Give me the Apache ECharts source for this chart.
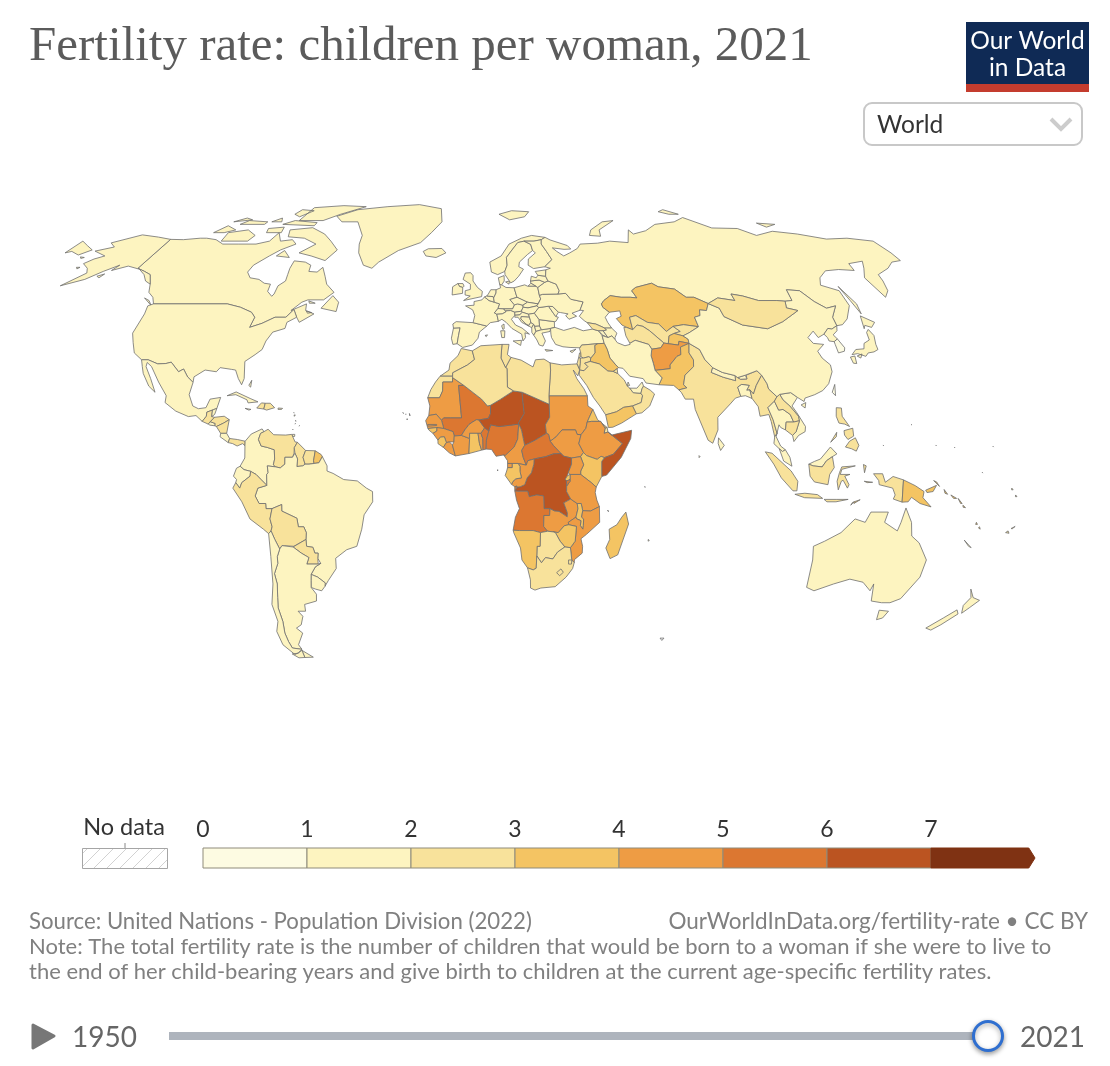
<!DOCTYPE html>
<html><head><meta charset="utf-8">
<style>html,body{margin:0;padding:0;background:#fff}#c{width:1110px;height:1066px}</style>
<script src="https://cdn.jsdelivr.net/npm/echarts@6/dist/echarts.min.js"></script>
</head><body><div id="c"></div>
<script>
const titleText = "Fertility rate: children per woman, 2021";
const legendTicks = [0,1,2,3,4,5,6,7];
const binColors = ["#fdfbe2","#fdf4c0","#f8e29b","#f4c463","#ee9c44","#dc7731","#bb5421","#7f3213"];
const timelineYears = [1950,2021];
const noteLines = [
 "Note: The total fertility rate is the number of children that would be born to a woman if she were to live to",
 "the end of her child-bearing years and give birth to children at the current age-specific fertility rates."];

const americasRates = {"Canada":1.4,"United States":1.7,"Mexico":1.8,"Guatemala":2.4,"Belize":2.0,"El Salvador":1.8,"Honduras":2.4,"Nicaragua":2.3,"Costa Rica":1.5,"Panama":2.3,"Cuba":1.5,"Haiti":2.8,"Dominican Republic":2.3,"Jamaica":1.3,"Puerto Rico":1.2,"Bahamas":1.4,"Trinidad":1.6,"Lesser Antilles":1.7,"Colombia":1.7,"Venezuela":2.2,"Guyana":2.4,"Suriname":2.4,"French Guiana":3.5,"Ecuador":2.0,"Peru":2.2,"Bolivia":2.6,"Brazil":1.6,"Paraguay":2.5,"Uruguay":1.5,"Argentina":1.9,"Chile":1.5,"Greenland":1.9};
const europeRates = {"Iceland":1.7,"Portugal":1.4,"Spain":1.3,"France":1.8,"Belgium":1.6,"Netherlands":1.6,"Germany":1.5,"Switzerland":1.5,"Austria":1.5,"Italy":1.3,"Poland":1.5,"Czechia":1.7,"Slovakia":1.6,"Hungary":1.6,"Slovenia":1.6,"Croatia":1.4,"Bosnia":1.3,"Serbia":1.5,"Montenegro":1.7,"Albania":1.4,"North Macedonia":1.4,"Greece":1.4,"Bulgaria":1.6,"Romania":1.6,"Moldova":1.8,"Ukraine":1.2,"Belarus":1.5,"Lithuania":1.6,"Latvia":1.6,"Estonia":1.7,"Denmark":1.7,"United Kingdom":1.6,"Ireland":1.8,"Norway":1.5,"Sweden":1.7,"Finland":1.4,"Russia":1.5,"Cyprus":1.3};
const africaRates = {"Morocco":2.3,"Western Sahara":2.3,"Algeria":2.9,"Tunisia":2.1,"Libya":2.5,"Egypt":2.9,"Mauritania":4.4,"Mali":5.9,"Niger":6.8,"Chad":6.3,"Sudan":4.5,"South Sudan":4.5,"Eritrea":3.8,"Ethiopia":4.2,"Djibouti":2.8,"Somalia":6.3,"Senegal":4.4,"Gambia":4.7,"Guinea-Bissau":4.0,"Guinea":4.4,"Sierra Leone":4.0,"Liberia":4.1,"Ivory Coast":4.4,"Burkina Faso":4.8,"Ghana":3.6,"Togo":4.2,"Benin":5.1,"Nigeria":5.2,"Cameroon":4.5,"Central African Republic":5.9,"DR Congo":6.2,"Congo":4.1,"Gabon":3.5,"Equatorial Guinea":4.2,"Angola":5.2,"Zambia":4.3,"Malawi":3.9,"Mozambique":4.6,"Tanzania":4.7,"Kenya":3.3,"Uganda":4.6,"Rwanda":3.8,"Burundi":5.1,"Zimbabwe":3.5,"Botswana":2.8,"Namibia":3.3,"South Africa":2.4,"Lesotho":3.0,"Eswatini":2.8,"Madagascar":3.8,"Cape Verde":1.9,"Comoros":3.9,"Mauritius":1.4,"Seychelles":2.3,"Sao Tome":3.8};
const asiaRates = {"Turkey":1.9,"Georgia":2.1,"Armenia":1.6,"Azerbaijan":1.7,"Kazakhstan":3.1,"Uzbekistan":2.9,"Turkmenistan":2.7,"Kyrgyzstan":3.0,"Tajikistan":3.2,"Afghanistan":4.6,"Pakistan":3.5,"Iran":1.7,"Iraq":3.5,"Syria":2.7,"Lebanon":2.1,"Israel":3.0,"Jordan":2.8,"Saudi Arabia":2.5,"United Arab Emirates":1.5,"Qatar":1.8,"Kuwait":2.1,"Oman":2.6,"Yemen":3.7,"India":2.03,"Nepal":2.0,"Bhutan":1.4,"Bangladesh":2.0,"Sri Lanka":2.0,"Myanmar":2.2,"Thailand":1.3,"Laos":2.5,"Vietnam":1.9,"Cambodia":2.3,"Malaysia":1.8,"Indonesia":2.2,"Timor-Leste":3.1,"Philippines":2.7,"Taiwan":1.0,"China":1.2,"Mongolia":2.9,"North Korea":1.8,"South Korea":0.9,"Japan":1.3,"Maldives":1.7};
const oceaniaRates = {"Papua New Guinea":3.2,"Solomon Islands":3.9,"Vanuatu":3.8,"New Caledonia":1.9,"Fiji":2.5,"Australia":1.6,"New Zealand":1.8,"Pacific islands":3.0};

const countryShapes = {
"Canada":["-141,69.6 -135,69.5 -128,70 -125,70 -120,69.5 -115,68 -108,68 -100,68 -95,69 -94,72 -90,69 -85,69.5 -82,68 -87,66 -90,64 -94,61 -94.5,58.8 -92,57 -88,56.5 -85,55.3 -82.3,55 -82,52.8 -79.5,51.3 -79,52 -79,54.5 -77,56 -77.5,58 -78,60 -78,62.4 -73,62 -70,61 -69.5,59 -66,58.8 -64.5,60.3 -62,57.5 -60,55 -56,52.5 -59,50.2 -65,50.2 -67,49.5 -70,47 -65,49 -64.5,47 -61,46 -65.5,43.5 -67,45 -69,47.3 -71,45 -75,45 -79,43.2 -83,42 -82.5,45 -84.5,46.5 -89.5,48 -95,49 -123,49 -125,51 -128,52.5 -130,55 -133.5,58 -137,59 -141,60",
 "-62,66 -65,62.5 -72,64 -78,65 -73,68 -80,70 -88,70.5 -90,73 -80,73.8 -72,71.5 -67,69","-105,69 -117,69 -118,72 -110,73 -104,71","-90,76.5 -78,76.5 -72,79 -62,82.5 -75,83 -90,82","-120,72 -125,72 -122,74.5 -116,73","-105,75 -117,75 -115,76.5 -105,76","-59,47.7 -53,46.7 -53,49.5 -56,51.5","-96,75 -80,74.5 -80,75.7 -92,76.5","-100,72 -93,72 -94,74 -101,73.5","-87,64 -81,63.5 -85,65.8","-125.5,50 -123.5,48.5 -128,50.8","-92,78 -88,80.5 -95,81 -96,79","-64.5,49.9 -61.8,49.2 -64,49.2","-64.2,46.9 -62,46.4 -63.5,46.2","-103,76 -98,76 -100,77.5","-122,76 -114,76.8 -118,77.5"],
"United States":["-123,49 -95,49 -89.5,48 -84.5,46.5 -82.5,45 -83,42 -79,43.2 -75,45 -71,45 -69,47.3 -67,45 -70,43.5 -70,41.7 -74,40.6 -75.5,38 -76,35.5 -78,34 -81,32 -80,27 -80.5,25.2 -82,27 -83.5,29.5 -85,29.7 -89,30.2 -90,29 -94,29.5 -97.3,27.5 -97.2,25.9 -99.5,27.5 -101.5,29.8 -103,29 -106.5,31.8 -108.2,31.4 -111,31.3 -114.8,32.5 -117.1,32.5 -120.5,34.5 -122.5,37.5 -124.3,40.3 -124,46 -124.7,48.4",
 "-141,69.6 -141,60 -137,59 -133.5,58 -130,55 -133,56 -136,58 -140,59.7 -146,60.7 -151,59.3 -150,61 -154,59 -158,56.5 -165,54.5 -160,58.5 -162,60 -166,61.5 -164,63 -161,64 -168,65.6 -162,67 -166,68.4 -157,71.2 -148,70.4","-154.5,57.5 -152.3,58.2 -153,57","-171,63.7 -169,63.5 -170,63.2","-167,60.3 -165.5,60.3 -166,59.8"],
"Mexico":["-117.1,32.5 -114.8,32.5 -111,31.3 -108.2,31.4 -106.5,31.8 -103,29 -101.5,29.8 -99.5,27.5 -97.2,25.9 -97.8,22.3 -96,19 -94,18.2 -91.5,18.5 -90.5,21 -87,21.5 -87.8,18.3 -89,17.9 -91,17.2 -91,16 -92.2,14.5 -94.5,16.2 -97,15.9 -101.5,17.5 -105.5,20 -105.5,22 -109,26 -112.8,30.5 -114.8,31.7 -114.7,30.5 -112,27 -109.5,23 -112,24.8 -115,28.5 -116,30.5"],
"Guatemala":["-92.2,14.5 -91,16 -91,17.2 -89.2,17.8 -89.2,15.9 -88.2,15.7 -89.5,14.4 -90.1,13.7"],
"Belize":["-89.2,17.8 -89,17.9 -87.8,18.3 -88.3,16.5 -89.2,15.9"],
"El Salvador":["-90.1,13.7 -89.5,14.4 -87.8,13.9 -87.8,13.2 -89.5,13.4"],
"Honduras":["-88.2,15.7 -85,16 -83.2,15 -85,14 -87.3,13 -87.8,13.2 -87.8,13.9 -89.5,14.4"],
"Nicaragua":["-87.3,13 -85,14 -83.2,15 -83.7,11 -85.7,11"],
"Costa Rica":["-85.7,11 -83.7,11 -82.6,9.5 -83,8.3 -85.8,10"],
"Panama":["-83,8.3 -82.6,9.5 -80,9.2 -77.4,8.7 -77.4,7.4 -78.2,8 -80,7.3 -81.5,8"],
"Cuba":["-84.9,22 -82,23.1 -77,21.2 -74.2,20.2 -77.5,19.9 -78,20.8 -82,22.3"],
"Haiti":["-74.4,18.4 -72,18.1 -71.7,19.8 -73,19.9"],
"Dominican Republic":["-71.7,19.8 -72,18.1 -71,17.8 -68.4,18.5 -70,19.8"],
"Jamaica":["-78.3,18.3 -76.3,18 -77,17.8"],
"Puerto Rico":["-67.2,18.4 -65.7,18.3 -66,18 -67.2,18"],
"Bahamas":["-78,25 -77.3,26.5 -77.3,24.5"],
"Trinidad":["-61.8,10.7 -61,10.7 -61,10.1 -61.8,10.1"],
"Lesser Antilles":["-61.8,17.1 -61.6,17.1 -61.7,16.9","-61.6,16.4 -61.2,16.3 -61.6,16","-61,14.8 -60.9,14.5 -61.1,14.5","-61,13.9 -60.9,13.7 -61.1,13.7","-59.6,13.3 -59.5,13.1 -59.7,13.1","-61.7,12.2 -61.6,12 -61.8,12"],
"Colombia":["-77.4,8.7 -75.5,10.8 -72,12.3 -71.3,11.5 -72.4,11 -73,9.2 -72,7.3 -70,6.9 -67.6,6.2 -67.4,3.5 -67.8,1.8 -67,1.2 -69.8,1.5 -69.5,-0.5 -70,-1 -70,-4.2 -72,-2.4 -73.5,-1 -75.3,-0.1 -77.5,0.4 -78.8,1.4 -77.3,3.8 -77.4,7.4"],
"Venezuela":["-71.3,11.5 -70,12.2 -68,10.6 -64,10.5 -62,10.7 -60.8,8.5 -60,8.4 -61,6.8 -61,5.2 -60.7,5.2 -61.5,4 -64,4 -64,2 -65.5,0.9 -67,1.2 -67.8,1.8 -67.4,3.5 -67.6,6.2 -70,6.9 -72,7.3 -73,9.2 -72.4,11"],
"Guyana":["-60,8.4 -57.2,6 -58,4 -57.3,2 -58,1.5 -60,1.3 -59.8,3.5 -60.7,5.2 -61,5.2 -61,6.8"],
"Suriname":["-57.2,6 -54,5.9 -54.5,3 -54.3,2.2 -56,2 -57.3,2 -58,4"],
"French Guiana":["-54,5.9 -52,4.8 -51.6,4.2 -52.7,2.4 -54.3,2.2 -54.5,3"],
"Brazil":["-51.6,4.2 -50,1.5 -50,0 -48,-0.7 -44.5,-2.5 -40,-2.9 -37,-5 -35,-6 -35,-9 -38,-12.8 -39,-17 -41,-22 -44.5,-23 -48.5,-25.5 -48.7,-28.5 -52,-32 -53.5,-33.7 -53.2,-32.7 -55.5,-31 -57.6,-30.2 -55.8,-28 -53.8,-27 -54.6,-25.5 -54.3,-24 -55.4,-24 -55.9,-22.3 -58,-22 -58,-20 -57.7,-18 -58.4,-16.3 -60.2,-16.3 -60.5,-13.8 -65.4,-11.7 -65.3,-9.8 -68.6,-11 -70.6,-11 -70.6,-9.5 -72.8,-9.5 -74,-7.3 -73,-5 -70,-4.2 -70,-1 -69.5,-0.5 -69.8,1.5 -67,1.2 -65.5,0.9 -64,2 -64,4 -61.5,4 -60.7,5.2 -59.8,3.5 -60,1.3 -58,1.5 -57.3,2 -56,2 -54.3,2.2 -52.7,2.4"],
"Ecuador":["-80,0.8 -78.8,1.4 -77.5,0.4 -75.3,-0.1 -75.5,-1.5 -78.3,-3.4 -79,-5 -80.3,-3.4 -80,-2.5 -81,-1.5"],
"Peru":["-75.3,-0.1 -73.5,-1 -72,-2.4 -70,-4.2 -73,-5 -74,-7.3 -72.8,-9.5 -70.6,-9.5 -70.6,-11 -68.6,-11 -69.5,-14 -69,-16.3 -69.5,-17.5 -70.4,-18.3 -72,-17 -76.2,-14 -78.5,-9 -81.3,-5 -80.3,-3.4 -79,-5 -78.3,-3.4 -75.5,-1.5"],
"Bolivia":["-68.6,-11 -65.3,-9.8 -65.4,-11.7 -60.5,-13.8 -60.2,-16.3 -58.4,-16.3 -57.7,-18 -58,-20 -62.3,-22 -62.6,-22.2 -66.3,-21.8 -67.2,-22.8 -68.5,-20 -69.5,-17.5 -69,-16.3 -69.5,-14"],
"Paraguay":["-58,-20 -58,-22 -55.9,-22.3 -55.4,-24 -54.3,-24 -54.6,-25.5 -54.7,-27.2 -58.6,-27.2 -57.6,-25.3 -60,-24 -62.6,-22.2 -62.3,-22"],
"Uruguay":["-57.6,-30.2 -55.5,-31 -53.2,-32.7 -53.5,-33.7 -54.9,-35 -57,-34.5 -58.4,-34 -58,-32"],
"Argentina":["-66.3,-21.8 -62.6,-22.2 -60,-24 -57.6,-25.3 -58.6,-27.2 -54.7,-27.2 -53.8,-27 -55.8,-28 -57.6,-30.2 -58,-32 -58.4,-34 -57,-36 -57.5,-38 -62,-39 -62.3,-41 -65,-41 -63.8,-42.5 -65.3,-45 -67.5,-46 -65.8,-47.5 -69,-51 -68.4,-52.4 -71.9,-52 -72.3,-50 -72.5,-47.5 -71.7,-44 -71.8,-40 -71,-37 -70,-33 -70.2,-30 -68.5,-27 -68.3,-25 -67.2,-22.8","-68.6,-52.7 -68.6,-54.9 -65.2,-54.8"],
"Chile":["-70.4,-18.3 -69.5,-17.5 -68.5,-20 -67.2,-22.8 -68.3,-25 -68.5,-27 -70.2,-30 -70,-33 -71,-37 -71.8,-40 -71.7,-44 -72.5,-47.5 -72.3,-50 -71.9,-52 -68.4,-52.4 -70.5,-53.5 -72,-54 -75,-51 -75.3,-47 -73.5,-44 -73.7,-39 -71.5,-33 -70.5,-25","-68.6,-52.7 -68.6,-54.9 -71,-55 -73,-53.8 -70.5,-53.6"],
"Greenland":["-73,78.2 -65,81 -50,82.5 -33,83.5 -20,81.5 -18,76 -22,72 -26,68.5 -35,65.8 -42,62 -44,60 -48,61 -52,65 -53.5,68 -54,71 -60,76 -68,76"],
"Iceland":["-22.5,64 -24,65.5 -22,66.4 -16,66.5 -14,65 -18,63.5"],
"Portugal":["-8.9,41.8 -6.5,41.9 -7,39.5 -7.4,37.2 -8.9,37 -9.5,38.8"],
"Spain":["-9.2,43 -8,43.7 -1.8,43.4 3.2,42.4 0.5,40.6 0,38.8 -2,36.8 -5.4,36.1 -7.4,37.2 -7,39.5 -6.5,41.9 -8.9,41.8","2.5,39.6 3.4,39.8 3,39.3"],
"France":["-1.8,43.4 3.2,42.4 4.5,43.4 7.5,43.8 7,45.9 6.1,46.3 7.5,47.6 8.2,49 6.2,49.5 4.2,50 2.5,51.1 1.5,50.2 -1.5,49.7 -1.5,48.6 -4.7,48.4 -2,47.2 -1.2,45.5","8.6,42.5 9.5,43 9.5,41.6 9,41.4"],
"Belgium":["2.5,51.1 4.2,50 6.2,49.5 6,50.8 5.8,51.2 3.4,51.4"],
"Netherlands":["3.4,51.4 5.8,51.2 6,50.8 7,52.3 7.1,53.3 5,53.3 4,52"],
"Germany":["7.1,53.3 7,52.3 6,50.8 6.2,49.5 8.2,49 7.5,47.6 9.6,47.5 13,47.5 13.8,48.7 12.2,50.3 15,51 14.7,52 14.2,53.9 11,54 9.4,54.8 8.6,54.9 8.9,53.9"],
"Switzerland":["6.1,46.3 7,45.9 9,46 10.4,46.6 9.6,47.5 7.5,47.6"],
"Austria":["9.6,47.5 10.4,46.9 12.2,47 13.7,46.5 16.2,46.8 17,48 17,48.6 15,49 13.8,48.7 13,47.5"],
"Italy":["7.5,43.8 8.8,44.4 10.3,43.5 12.3,41.7 15.7,40 16,38 17,39 16.9,40.4 18.5,40 16,41.8 13.7,42.7 12.3,44.4 13.7,45.6 13.7,46.5 12.2,47 10.4,46.9 10.4,46.6 9,46 7,45.9","12.5,38 15.5,38.2 15.1,36.7","8.2,41 9.7,41 9.5,39 8.5,39"],
"Poland":["14.2,53.9 14.7,52 15,51 18.8,49.5 22.8,49 24,50.5 23.7,51.6 23.5,54 22.8,54.4 19.5,54.4 18.5,54.8"],
"Czechia":["12.2,50.3 13.8,48.7 15,49 17,48.6 18.8,49.5 15,51"],
"Slovakia":["17,48.6 17,48 18.8,47.8 22.2,48.4 22.8,49 18.8,49.5"],
"Hungary":["16.2,46.8 17,48 18.8,47.8 22.2,48.4 22.9,47.9 21,46.2 18.8,45.9 16.5,46.5"],
"Slovenia":["13.7,46.5 16.2,46.8 16.5,46.5 15.5,45.7 13.7,45.6"],
"Croatia":["13.7,45.6 15.5,45.7 16.5,46.5 18.8,45.9 19,45 16,45.2 15.8,44.5 17.5,43 18.5,42.4 16,43.5 14.8,45 13.6,45"],
"Bosnia":["16,45.2 19,45 19.3,44 19.3,43.4 18.5,42.6 18.5,42.4 17.5,43 15.8,44.5"],
"Serbia":["19,45 18.8,45.9 21,46.2 22.5,44.3 22.4,42.4 20.6,42.3 20.3,42.9 19.3,43.4 19.3,44"],
"Montenegro":["18.5,42.6 19.3,43.4 20.3,42.9 19.5,41.9 18.5,42.4"],
"Albania":["19.5,41.9 20.3,42.9 20.6,42.3 20.9,40.8 20,39.7 19.4,40.5"],
"North Macedonia":["20.6,42.3 22.4,42.4 23,41.3 20.9,40.8"],
"Greece":["20,39.7 20.9,40.8 23,41.3 26.3,41.7 26,40.8 23,40.3 24,38 23,36.5 21.7,36.8 21,38.3","23.6,35.5 26.3,35.2 24,35"],
"Bulgaria":["22.5,44.3 28,43.7 27.8,42 26.3,41.7 23,41.3 22.4,42.4"],
"Romania":["21,46.2 22.9,47.9 26.6,48.3 28.2,46 28.8,45.2 29.7,45 28.6,43.8 28,43.7 22.5,44.3"],
"Moldova":["26.6,48.3 28.2,48.2 30,46.5 28.8,45.2 28.2,46"],
"Ukraine":["22.8,49 24,50.5 23.7,51.6 25,51.9 31,52 34,52.2 35.5,50.4 40,49.6 38.2,47.1 35,46.2 36.5,45.3 33.5,44.4 32.5,45.5 33.5,46 30.8,46.4 30,46.5 28.2,48.2 26.6,48.3 22.9,47.9 22.2,48.4"],
"Belarus":["23.5,54 23.7,51.6 25,51.9 31,52 31.7,53 31,55 28,56 26.6,55.6"],
"Lithuania":["21,56 24.5,56.3 26.6,55.6 23.5,54 22.8,54.4 21,55.3"],
"Latvia":["21,56 21.6,57.5 23.5,57 24.3,57.8 27.4,57.5 28,56 26.6,55.6 24.5,56.3"],
"Estonia":["24.3,57.8 23.5,59 28,59.5 27.4,57.5"],
"Denmark":["8.6,54.9 9.4,54.8 10.5,56 10.6,57.7 8.2,57","11,55.7 12.6,56 12.3,55"],
"United Kingdom":["-5.5,50 1.4,51.2 1.7,52.8 -0.2,54 -2,56 -2,57.7 -3,58.6 -5.2,58.5 -6,56.5 -3,55 -3,53.4 -5,53 -5,51.7 -3,51.4","-7.3,54.3 -8,55.2 -6,55.2 -5.5,54.4 -6,54"],
"Ireland":["-6,52.2 -10,51.7 -10,54.2 -8,55.2 -7.3,54.3 -6,54"],
"Norway":["5,62 10,64 14,68 20,70 25,71 31,70.3 29,69.5 25.5,69 21,69 18,68.5 15,66 12.2,63.5 12.2,61 11,59 8,58 5.5,58.8","11,79 16,76.8 24,78 27,80 18,80.5"],
"Sweden":["11,59 12.2,61 12.2,63.5 15,66 18,68.5 21,69 23.7,67.9 24,65.8 21.5,64.5 17.5,62 17,60.5 18.8,59.7 16.5,57.5 14.5,56 13,55.4 11,58"],
"Finland":["21,69 25.5,69 29,69.5 28.5,68 30,65.5 31.5,62.8 27.8,60.5 23,59.9 21,61 21.5,63 25,65 24,65.8 23.7,67.9"],
"Russia":["31,70.3 29,69.5 28.5,68 30,65.5 31.5,62.8 27.8,60.5 30,60 28,59.5 27.4,57.5 28,56 31,55 31.7,53 31,52 34,52.2 35.5,50.4 40,49.6 38.2,47.1 39.5,47 37.5,45.3 39,44 40,43.4 43,43 46,41.8 48.5,41.8 47.5,43.5 47,45 49,46.5 47,48 46.8,49 48,50 51,51.5 55,51 58.5,51 61,50.8 60,53 62,54 69,55.3 71,54.2 77,53.5 80,51 83,51 87.3,49.1 92,50.8 98,50 98,52 102,51.4 107,50 114,50 117,49.8 119.8,50 120.7,53.3 125.5,53 128,49.7 131,47.7 135,48.4 131,45 130.7,42.5 133,42.8 136,44.5 140.3,48.5 141,53 135.5,54.7 138,57 143,59.2 149,59.6 155,59.3 156,61.5 163,62.3 160,60 156,57 156.7,51 160,53 162,56 163,58 170,60 175,62 179.5,62.5 180,65 180,69 170,70 160,69.7 150,71.5 140,72.5 130,71 125,73.5 113,73.7 105,77.7 98,76 87,75 80,72.7 73,71.5 72,73 68,68.5 60,69 54,68.3 46,68 44,66.5 40,65 37,64 34.5,65.5 33,66.7 38,66.2 41,66.3 40,67.5 33,69.4",
 "19.8,54.4 22.8,54.4 21,55.3","142,54.3 143.5,49 142.5,46 142,50","96,80 100,79 105,79 100,81","138,75.5 146,75 140,74","52,71 57,70.7 58,73 68,76.5 62,76 54,73","-180,65 -180,69 -175,67.5 -170,66 -173,64.3 -178,65.5"],
"Cyprus":["32.3,35 34.5,35.6 33,34.6"],
"Turkey":["26.2,40 26.3,41.7 28,42 31,41.1 35,42 38,41 41.5,41.5 43.5,41 44.5,39.6 44.8,37.3 42.4,37.2 36.7,36.8 36,36 32.5,36.1 30,36.3 27.5,37 26.3,39"],
"Georgia":["40,43.4 43,43 46,41.8 46.5,41.2 45.2,41 43.5,41 41.5,41.5"],
"Armenia":["43.5,41 45.2,41 46.5,39 44.8,39.7 44.5,39.6"],
"Azerbaijan":["46,41.8 48.5,41.8 50,40.3 49,39 48.9,38.4 48,39.5 46.5,39 45.2,41 46.5,41.2"],
"Kazakhstan":["49,46.5 47,48 46.8,49 48,50 51,51.5 55,51 58.5,51 61,50.8 60,53 62,54 69,55.3 71,54.2 77,53.5 80,51 83,51 87.3,49.1 85.5,47 83,47.2 82.3,45.5 80,45 80.2,42.2 75,42.8 71,42.3 68,40.8 66,43 62,43.5 58.5,45.5 56,45 56,41.3 54,42 52.5,42.7 51,44.6 53,45.3 53,46.9"],
"Uzbekistan":["56,45 58.5,45.5 62,43.5 66,43 68,40.8 71,42.3 73,40.8 70.5,40.2 68.5,39.5 67.5,37.2 66,37.4 62,41 60,42.3 58,42.7 56,41.3"],
"Turkmenistan":["53,42 54,42 56,41.3 58,42.7 60,42.3 62,41 66,37.4 64.5,36 61.2,35.6 60.5,37 56,38.2 53.9,37.3 53,39.5"],
"Kyrgyzstan":["71,42.3 75,42.8 80.2,42.2 76,40.4 73.5,39.5 70.5,40.2 73,40.8"],
"Tajikistan":["68.5,39.5 70.5,40.2 73.5,39.5 75,38.5 74.9,37.3 71.5,37.9 71,36.8 67.5,37.2"],
"Afghanistan":["61.2,35.6 64.5,36 66,37.4 67.5,37.2 71,36.8 71.5,37.9 74.9,37.3 71.5,36.2 71,34 69.5,33.5 66.5,31 66.3,29.9 61,29.4 60.8,31.5 60.5,33.7"],
"Pakistan":["61,29.4 66.3,29.9 66.5,31 69.5,33.5 71,34 71.5,36.2 74.9,37.3 74,34.5 75,32.5 74.5,30.5 71,28 70,25.2 71,24.3 68.2,23.7 66.6,25 61.6,25.2 63,27.2"],
"Iran":["44.5,39.6 44.8,39.7 46.5,39 48,39.5 48.9,38.4 49.5,37.5 52,36.6 53.9,37 53.9,37.3 56,38.2 60.5,37 61.2,35.6 60.5,33.7 60.8,31.5 61,29.4 63,27.2 61.6,25.2 57.3,25.7 56.5,27 52,27.7 50,30 48.5,30.2 47.7,31 46,33 45.5,35.5 44.8,37.3"],
"Iraq":["44.8,37.3 45.5,35.5 46,33 47.7,31 48.5,30.2 48,29.9 46.5,29.1 44.7,29.2 42,31.3 39,32 39.3,33 41,34.5 41.3,36.7 42.4,37.2"],
"Syria":["35.8,35.8 36.7,36.8 42.4,37.2 41.3,36.7 41,34.5 39.3,33 38.7,33.4 36.8,33 35.9,33.4 36,34.6"],
"Lebanon":["35.1,33.1 35.9,33.4 36,34.6 35.6,34.5"],
"Israel":["34.3,31.3 35.1,33.1 35.7,33 35.5,31.5 35,29.5"],
"Jordan":["35,29.5 35.5,31.5 35.7,33 36.8,33 38.7,33.4 39.3,33 39,32 37,31.5 38,30.5 36.5,29.3"],
"Saudi Arabia":["35,29.5 36.5,29.3 38,30.5 37,31.5 39,32 42,31.3 44.7,29.2 46.5,29.1 48,28.5 50,26.6 50.8,24.8 51.6,24.2 52.6,22.9 55.2,22.7 55.7,22 55,20 52,19 49,18.6 46.5,17.3 42.8,16.4 41,19 39,21.5 37,25 34.7,28"],
"United Arab Emirates":["51.6,24.2 54,24.2 56,26 56.3,24.8 55.7,24 55.2,22.7 52.6,22.9"],
"Qatar":["50.8,24.8 51.2,26 51.6,25"],
"Kuwait":["48,28.5 46.5,29.1 48,29.9"],
"Oman":["55.2,22.7 55.7,24 56.3,24.8 58.5,23.6 59.8,22.5 57.8,19 55,17 53.1,16.7 52,19 55,20 55.7,22"],
"Yemen":["42.8,16.4 46.5,17.3 49,18.6 52,19 53.1,16.7 48,14 45,12.8 43.5,12.7"],
"India":["74.9,37.3 78,35.5 79,32.5 81,30.2 80.2,28.8 84,27.4 88,26.4 88.1,27.9 88.9,27.3 89.8,26.8 92,26.9 92,28 96,29.3 97.3,28 94.7,25 93.3,22.5 92.3,23.7 91.2,23.6 92.3,25 89.8,25.3 88.3,24.5 88.9,21.8 87,21.3 85,19.6 80.3,15.7 80,12 78,8.1 76.5,9 73,18 72.8,21 70,21 68.9,23 68.2,23.7 71,24.3 70,25.2 71,28 74.5,30.5 75,32.5 74,34.5"],
"Nepal":["80.2,28.8 81,30.2 84,28.8 88.1,27.9 88,26.4 84,27.4"],
"Bhutan":["88.9,27.3 91.7,28 92,26.9 89.8,26.8"],
"Bangladesh":["88.3,24.5 89.8,25.3 92.3,25 91.2,23.6 92.3,23.7 92.6,21.2 90.5,22 88.9,21.8"],
"Sri Lanka":["80,9.7 81.8,7.5 80.5,6 79.8,8"],
"Maldives":["73.3,4.5 73.6,4.2 73.3,3.9"],
"Myanmar":["97.3,28 98.5,25.5 98.7,24 101.1,21.7 100,20.4 97.5,18.5 98.7,15 99.6,11 98.7,10 98,14.5 97.5,16.5 94.5,16 94.3,18.8 92.6,21.2 92.3,23.7 93.3,22.5 94.7,25"],
"Thailand":["100,20.4 101,17.8 102.5,18 104.7,16.5 105.5,14.3 103,14.3 102.5,12 101,12.7 100.5,13.5 99.2,10 100.5,7.3 102,6.2 101,5.7 100,6.5 98.3,8 98.7,10 99.6,11 98.7,15 97.5,18.5"],
"Laos":["100,20.4 101.1,21.7 102.2,22.4 103,20.8 105,19 107.4,16 107.5,14.7 105.5,14.3 104.7,16.5 102.5,18 101,17.8"],
"Vietnam":["102.2,22.4 106,22.9 108,21.5 105.7,19 107,17 109.3,13 109,11.5 106.7,10.4 105,8.6 104.7,10.4 106,11.5 107.5,14.7 107.4,16 105,19 103,20.8"],
"Cambodia":["102.5,12 103,14.3 105.5,14.3 107.5,14.7 106,11.5 104.7,10.4"],
"Malaysia":["100,6.5 101,5.7 102,6.2 103.4,4 104,1.4 101.3,2.9","109.6,2 111,1.5 114,1.2 115.5,3 117.5,4.2 119,5 117,7 113.5,3.5 111.5,2.8"],
"Indonesia":["109.6,2 111,1.5 114,1.2 115.5,3 117.5,4.2 118,1 116.5,-1 116,-4 111.5,-3.2 110,-1.5","95.3,5.6 97.5,5.2 103.7,0 106,-3 105.8,-5.8 104.5,-5.8 100.5,-2 98,2","105.2,-6.8 108.5,-6.5 112.7,-6.9 114.5,-8 108.5,-7.8","119.5,-5.5 120.4,-3 121,-2.7 122.5,-5 123,-4 121.5,-1.5 123.2,-1 120,-1 120.5,0.5 125,1.5 120.5,1.2 119.7,-0.5 119,-3","115,-8.3 119,-8.3 123,-8.3 119,-9 116,-9","124,-10 125,-9 124.5,-9.2","127.7,1.9 128.6,1.5 128,-0.5","128,-3 130.8,-3.3 129,-3.4","131,-0.8 134,-0.8 135,-3.3 137.5,-1.6 141,-2.6 141,-9.1 138,-8.2 138.5,-7 137.5,-5 133,-4 132.8,-2.8"],
"Timor-Leste":["125,-9 127,-8.4 125,-9.5"],
"Papua New Guinea":["141,-2.6 145,-4.3 148,-6 147.8,-7.8 150.8,-10.5 147,-9.5 144,-7.7 143,-9 141,-9.1","148.5,-5.6 152,-4.2 151,-6 149,-6.3","151,-2.8 153,-4.5 152,-3.2","154.6,-5.4 155.9,-6.8 155,-6.5"],
"Solomon Islands":["157,-7 159,-8 158,-8","159.5,-8 161,-9.5 160.5,-9.5","161.3,-10 162.3,-10.7 161.5,-10.6"],
"Vanuatu":["166.7,-15 167.2,-15.6 166.6,-15.6","168.1,-16.3 168.5,-17 167.8,-16.6"],
"New Caledonia":["164,-20.2 167,-22.4 166,-22"],
"Fiji":["178,-17.5 178.5,-18.2 177.3,-18","178.8,-16.8 180,-16.2 179.2,-16.9"],
"Pacific islands":["134.5,7.6 134.7,7.4 134.4,7.4","144.7,13.6 144.9,13.4 144.6,13.4","158.1,7 158.3,6.8 158,6.8","152,7.6 152.2,7.4 151.9,7.4","171,7.2 171.2,7 170.9,7","167,-0.4 167.2,-0.6 166.9,-0.6","177,-5 177.5,-5.5 177,-5.5","178.5,-7 179,-7.5 178.5,-7.5"],
"Philippines":["120.5,18.5 122.2,18.4 122,16 124,13 122.5,13.7 120.6,14 120,16","122,7 123.5,8.7 125.5,9.7 126.5,7.5 125.5,5.8 124,6.5","122,11.8 125,12.5 125,10.2 123,9.2 122,10.5","117.2,8.4 119.5,11.3 119.2,10"],
"Taiwan":["121.5,25.3 121,22 120.1,23"],
"China":["74.9,37.3 78,35.5 79,32.5 81,30.2 84,28.8 88.1,27.9 88.9,27.3 91.7,28 92,28 96,29.3 97.3,28 98.5,25.5 98.7,24 101.1,21.7 102.2,22.4 106,22.9 108,21.5 110,20.3 110.5,21.3 114,22.3 117,23.5 119.5,25.5 121.8,29 122,31 120,33 119.3,35 122.5,37 119,37.3 118,39 121,40.9 121.7,39 124.3,40 126.9,41.7 128.2,41.5 130.7,42.5 131,45 135,48.4 131,47.7 128,49.7 125.5,53 120.7,53.3 119.8,50 117,49.8 116,47.8 119.7,47 111.8,43.7 105,41.6 96.5,42.7 91,45.2 90.7,47.7 87.3,49.1 85.5,47 83,47.2 82.3,45.5 80,45 80.2,42.2 76,40.4 73.5,39.5 75,38.5","108.8,19.3 110.5,20 110,18.4"],
"Mongolia":["87.3,49.1 92,50.8 98,50 98,52 102,51.4 107,50 114,50 117,49.8 116,47.8 119.7,47 111.8,43.7 105,41.6 96.5,42.7 91,45.2 90.7,47.7"],
"North Korea":["124.3,40 126.9,41.7 128.2,41.5 130.7,42.5 129.7,41 127.5,39.8 128.3,38.6 126.7,37.8 125,38 125,39"],
"South Korea":["126.7,37.8 128.3,38.6 129.4,36 128.7,35 126.4,34.5 126.6,37"],
"Japan":["130.9,34 133,35.5 136,35.7 137,37.3 139.5,38.3 140,40.5 141.3,41.4 142,39.6 141,37 140.8,35.5 139,34.8 136.8,34.5 135.5,33.5 133,34.3","140,41.6 141.6,45.4 145.3,43.5 143,42 141,42.6","130,33.3 131.7,33.6 131.3,31.4 130.2,31.5","132.5,33.6 134.5,34.2 133.5,33"],
"Morocco":["-5.9,35.8 -2,35.1 -1.2,32.6 -3.6,31 -8.7,28.7 -8.7,27.7 -13,27.7 -10,29.5 -9.7,31.5 -7,33.7"],
"Western Sahara":["-13,27.7 -8.7,27.7 -8.7,27.3 -8.7,26 -12,26 -12,23.4 -13,21.4 -17,21.4 -16,23.8 -14.5,26"],
"Mauritania":["-17,21.4 -13,21.4 -12,23.4 -12,26 -8.7,26 -8.7,27.3 -4.8,25 -6.6,25 -5.5,15.5 -9.3,15.5 -11.5,15.5 -12.2,14.8 -14,16.6 -16.5,16.2 -16.2,19"],
"Mali":["-12.2,14.8 -11.5,15.5 -9.3,15.5 -5.5,15.5 -6.6,25 -4.8,25 1.2,21 3.2,19 4.2,19.2 4.2,16.8 3.5,15.4 0.3,14.9 -0.5,15 -2,14.2 -3,13.6 -4.4,12 -5.5,10.4 -7.9,10.2 -8.3,11.5 -11.4,12.4"],
"Senegal":["-16.5,16.2 -14,16.6 -12.2,14.8 -11.4,12.4 -13.7,12.7 -16.7,12.4 -17.5,14.7"],
"Gambia":["-16.8,13.6 -13.8,13.6 -13.8,13.3 -16.8,13.1"],
"Guinea-Bissau":["-16.7,12.4 -13.7,12.7 -13.7,11.7 -15,11 -16.3,11.9"],
"Guinea":["-13.7,12.7 -11.4,12.4 -8.3,11.5 -7.9,10.2 -8,8.5 -9.5,8.5 -10.5,8.3 -11.2,10 -12.5,9.9 -13.3,9 -15,11 -13.7,11.7"],
"Sierra Leone":["-13.3,9 -12.5,9.9 -11.2,10 -10.5,8.3 -11.5,6.9 -13.3,8"],
"Liberia":["-11.5,6.9 -10.5,8.3 -9.5,8.5 -8.5,7.6 -7.5,4.4 -9.5,5.3"],
"Ivory Coast":["-7.5,4.4 -8.5,7.6 -8,8.5 -7.9,10.2 -5.5,10.4 -2.8,9.5 -3,5.1"],
"Burkina Faso":["-5.5,10.4 -4.4,12 -3,13.6 -2,14.2 -0.5,15 0.3,14.9 2.2,12.6 1,11 0,11 -2.8,11 -2.8,9.5"],
"Ghana":["-3,5.1 -2.8,9.5 -2.8,11 0,11 0.5,8 1.2,6.1"],
"Togo":["0,11 1,11 1.6,9.5 1.7,6.2 1.2,6.1 0.5,8"],
"Benin":["1,11 2.2,12.6 3.6,11.7 2.8,9 2.7,6.4 1.7,6.2 1.6,9.5"],
"Nigeria":["2.7,6.4 2.8,9 3.6,11.7 4.2,13.5 7,13 10,13.3 13.6,13.7 13.2,9.3 12,7 9,4.5 8.5,4.7 6,4.3 4.5,6.3"],
"Niger":["0.3,14.9 3.5,15.4 4.2,16.8 4.2,19.2 7.5,20.9 12,23.4 15,23 15,22 15.5,16.8 13.5,14 13.6,13.7 10,13.3 7,13 4.2,13.5 3.6,11.7 2.2,12.6"],
"Chad":["15,23 24,19.5 24,15.7 22.5,13.5 22.8,11 19,9 15.5,7.5 14.5,12 13.6,13.7 13.5,14 15.5,16.8 15,22"],
"Sudan":["24,22 37,22 37,19 38.6,18 36.5,14.3 36,12.5 34.3,10.6 33,10.7 32.5,12 28,12 26,10 24,8.7 23.5,10.7 22.8,11 22.5,13.5 24,15.7 24,19.5"],
"South Sudan":["24,8.7 26,10 28,12 32.5,12 33,10.7 34.3,10.6 33.5,8 35,5.4 34,4.2 31,3.8 28.5,4.3 27.5,5.1 25,7.5"],
"Eritrea":["38.6,18 36.5,14.3 38,14.5 41,14.5 42.4,12.5 43.1,12.7 40,15"],
"Djibouti":["42.4,12.5 43.1,12.7 43.3,11.4 42,11"],
"Ethiopia":["34.3,10.6 36,12.5 36.5,14.3 38,14.5 41,14.5 42.4,12.5 42,11 43.3,11.4 48,8 44.9,4.9 41.9,3.9 40.8,4.3 39.5,3.4 36,4.5 35,5.4 33.5,8"],
"Somalia":["43.3,11.4 44.5,10.5 51.2,11.9 50.8,9.5 47.5,4 42.6,-1.2 41,-1.6 41,2.8 41.9,3.9 44.9,4.9 48,8"],
"Kenya":["41,-1.6 39.2,-4.7 37.7,-3.5 34,-1 34,0 35,1.8 34,4.2 35,5.4 36,4.5 39.5,3.4 40.8,4.3 41.9,3.9 41,2.8"],
"Egypt":["25,31.6 29,31 32.5,31.2 34.3,31.3 35,29.5 34.2,27.8 32.8,29.5 33.8,27 36,24 37,22 24,22 25,29.5"],
"Libya":["11.5,33.2 15,32.4 19,30.4 20,32.5 23,32.7 25,31.6 25,29.5 24,22 24,19.5 15,23 12,23.4 10,24.5 10,30 9.5,30.2"],
"Tunisia":["8.5,37 11,37 10.3,34 11.5,33.2 9.5,30.2 8,33"],
"Algeria":["-2,35.1 1,36.6 8.5,37 8,33 9.5,30.2 10,30 10,24.5 12,23.4 7.5,20.9 4.2,19.2 3.2,19 1.2,21 -4.8,25 -8.7,27.3 -8.7,27.7 -8.7,28.7 -3.6,31 -1.2,32.6"],
"Cameroon":["8.5,4.7 9.8,3 9.8,2.2 11.3,2.2 13.3,2.2 16,1.7 15,4 14.5,6 15.5,7.5 14.5,12 13.6,13.7 13.2,9.3 12,7 9,4.5"],
"Central African Republic":["15.5,7.5 19,9 22.8,11 23.5,10.7 24,8.7 25,7.5 27.5,5.1 25,5 22.5,4.2 19,3.6 18.6,3.5 16.5,3 16,1.7 15,4 14.5,6"],
"DR Congo":["12.2,-5.8 13,-5.9 16.5,-5.9 17,-7.5 19.5,-7 21.8,-7.3 22,-11 24,-11 25.5,-11.7 27,-11.8 28.4,-12.6 29.8,-13.4 29.8,-12.2 28.5,-9.3 30.8,-8.2 29.4,-6 29.4,-4.4 29.3,-2.8 28.9,-2.4 29.6,-1.4 29.9,-0.5 31,2 31,3.8 28.5,4.3 27.5,5.1 25,5 22.5,4.2 19,3.6 18.6,3.5 18.5,2 17.7,-0.5 16.3,-2 15.5,-4 14,-4.6 13,-4.7 12.9,-5"],
"Congo":["11.1,-3.9 12.2,-4.6 12.8,-4.4 13,-4.7 14,-4.6 15.5,-4 16.3,-2 17.7,-0.5 18.5,2 18.6,3.5 16.5,3 16,1.7 13.3,2.2 13.9,1.3 13.9,-0.1 14.4,-2 12.5,-2.3 11.6,-3"],
"Gabon":["9.8,1 11.3,1 11.3,2.2 13.3,2.2 13.9,1.3 13.9,-0.1 14.4,-2 12.5,-2.3 11.6,-3 11.1,-3.9 9,-1.3 9.5,0"],
"Equatorial Guinea":["9.8,2.2 11.3,2.2 11.3,1 9.8,1"],
"Angola":["12.2,-5.8 13,-5.9 16.5,-5.9 17,-7.5 19.5,-7 21.8,-7.3 22,-11 24,-11 23.9,-13 22,-13 22,-16.2 23.4,-17.6 21,-18 18.5,-17.4 13.9,-17.4 11.8,-17.3 12.5,-13.5 13.8,-11 12.8,-8.5","12.2,-4.6 12.8,-4.4 12.9,-5 12.2,-5.6"],
"Zambia":["22,-13 23.9,-13 24,-11 25.5,-11.7 27,-11.8 28.4,-12.6 29.8,-13.4 29.8,-12.2 28.5,-9.3 30.8,-8.2 33,-9.5 33.3,-11 32.7,-13.5 30.2,-15 30.4,-15.7 28.9,-16 27,-18 25.3,-17.8 23.4,-17.6 22,-16.2"],
"Tanzania":["30.8,-8.2 29.4,-6 29.4,-4.4 30.5,-3 30.5,-2.4 30.5,-1 34,-1 37.7,-3.5 39.2,-4.7 38.9,-6.3 39.5,-8.5 40.4,-10.4 37.5,-11.7 34.9,-11.6 34.3,-9.5 33,-9.5"],
"Uganda":["29.9,-0.5 30.5,-1 34,-1 34,0 35,1.8 34,4.2 31,3.8 31,2"],
"Rwanda":["28.9,-2.4 29.6,-1.4 30.5,-1 30.5,-2.4 29.8,-2.8 29.3,-2.8"],
"Burundi":["29.3,-2.8 29.8,-2.8 30.5,-2.4 30.5,-3 29.4,-4.4"],
"Malawi":["33,-9.5 34.3,-9.5 34.9,-11.6 34.6,-13.5 35.3,-14 35.3,-16 35.2,-17 34.3,-16 34.4,-14.5 33,-14 32.7,-13.5 33.3,-11"],
"Mozambique":["40.4,-10.4 40.7,-15 36.5,-18.5 34.7,-19.8 35.4,-22 35.4,-24 32.9,-25.9 32.9,-26.8 32,-26 31.3,-22.4 32.8,-20.5 33,-16.2 30.4,-15.7 30.2,-15 32.7,-13.5 33,-14 34.4,-14.5 34.3,-16 35.2,-17 35.3,-16 35.3,-14 34.6,-13.5 34.9,-11.6 37.5,-11.7"],
"Zimbabwe":["25.3,-17.8 27,-18 28.9,-16 30.4,-15.7 33,-16.2 32.8,-20.5 31.3,-22.4 29.4,-22.2 27.7,-20.5 26,-18"],
"Botswana":["21,-18 23.4,-17.6 25.3,-17.8 26,-18 27.7,-20.5 29.4,-22.2 27,-23.7 25.5,-25.7 23,-25.3 21.7,-26.8 20,-24.8 20,-22 21,-22"],
"Namibia":["11.8,-17.3 13.9,-17.4 18.5,-17.4 21,-18 21,-22 20,-22 20,-24.8 20,-28.4 19,-28.9 17,-28.3 15,-26 14.4,-22.5 12,-18"],
"South Africa":["17,-28.3 19,-28.9 20,-28.4 20,-24.8 21.7,-26.8 23,-25.3 25.5,-25.7 27,-23.7 29.4,-22.2 31.3,-22.4 32,-26 32.9,-26.8 32.5,-28.5 30.5,-31 27,-33.8 22,-34.2 20,-34.8 18.4,-34.2 18.2,-31.8"],
"Lesotho":["27.1,-29.7 28.5,-28.6 29.4,-29.6 28.2,-30.6"],
"Eswatini":["30.9,-26 32,-26 32,-27.2 31,-27.2"],
"Madagascar":["49.3,-12 50.4,-15.5 47.5,-24.5 45,-25.6 43.3,-22.5 44.4,-20 44,-17 46.5,-15.7 48,-13.5"],
"Cape Verde":["-25.2,17.1 -24.9,17.1 -25,16.8","-24.2,16.7 -24,16.6 -24.2,16.5","-23.7,15.3 -23.4,15.1 -23.7,14.9","-23,16.8 -22.8,16.1 -23,16.1"],
"Comoros":["43.2,-11.4 43.5,-11.9 43.2,-11.9"],
"Mauritius":["57.4,-20 57.8,-20.3 57.4,-20.5"],
"Seychelles":["55.3,-4.5 55.6,-4.7 55.4,-4.8"],
"Sao Tome":["6.5,0.4 6.8,0.2 6.5,0"],
"Australia":["113.5,-22 114.2,-26 115,-34 118,-35 124,-33 129,-31.6 134,-32.5 137.7,-35 138,-33 140,-38 144,-38.5 147,-38.5 150,-37.3 153,-31 153,-26 149,-21 146,-19 145,-15 142.5,-10.8 141.5,-15 140.8,-17.5 136,-15 136.8,-12 131,-12 129.5,-15 126,-14 122,-18 117,-20.5","144.7,-40.7 148.3,-41 147.8,-43 146,-43.5"],
"New Zealand":["172.8,-34.5 175.5,-37 178.4,-37.8 176.5,-40 175.3,-41.6 173.8,-39.3 174.7,-37","172.7,-40.6 174.2,-41.8 171,-45 169,-46.6 166.5,-46 170,-43"],
"Kerguelen":["69,-49 70.5,-49 70,-49.7"]
};

/* Robinson projection tables */
const robinsonLen = [1,.9986,.9954,.99,.9822,.973,.96,.9427,.9216,.8962,.8679,.835,.7986,.7597,.7186,.6732,.6213,.5722,.5322];
const robinsonDrop = [0,.062,.124,.186,.248,.31,.372,.434,.4958,.5571,.6176,.6769,.7346,.7903,.8435,.8936,.9394,.9761,1];
const MAP_X0 = 478, MAP_Y0 = 471, MAP_SX = 3.02, MAP_SY = 276;
function lerpT(t, a){const i=Math.min(Math.floor(a/5),17),f=a/5-i;return t[i]+(t[i+1]-t[i])*f;}
function invT(t,v){for(let i=0;i<18;i++){if(v<=t[i+1])return 5*(i+(v-t[i])/(t[i+1]-t[i]));}return 90;}
const robinson = {
  project(p){const a=Math.abs(p[1]);return [MAP_X0+MAP_SX*p[0]*lerpT(robinsonLen,a), MAP_Y0-Math.sign(p[1])*MAP_SY*lerpT(robinsonDrop,a)];},
  unproject(q){const d=(MAP_Y0-q[1])/MAP_SY,a=invT(robinsonDrop,Math.abs(d));return [(q[0]-MAP_X0)/(MAP_SX*lerpT(robinsonLen,a)),Math.sign(d)*a];}
};

const allRates = Object.assign({},americasRates,europeRates,africaRates,asiaRates,oceaniaRates);
const toRing = s => { const r = s.split(' ').map(c=>c.split(',').map(Number)); r.push(r[0]); return r; };
let bx0=1e9,bx1=-1e9,by0=1e9,by1=-1e9;
const features = Object.keys(countryShapes).map(name=>{
  const rings = countryShapes[name].map(toRing);
  rings.forEach(r=>r.forEach(p=>{const q=robinson.project(p);bx0=Math.min(bx0,q[0]);bx1=Math.max(bx1,q[0]);by0=Math.min(by0,q[1]);by1=Math.max(by1,q[1]);}));
  return {type:'Feature',properties:{name},geometry:{type:'MultiPolygon',coordinates:rings.map(r=>[r])}};
});
echarts.registerMap('owid',{type:'FeatureCollection',features});
const mapData = Object.keys(countryShapes).map(name=>({name,value:(name in allRates)?allRates[name]:NaN}));

const hatch = document.createElement('canvas'); hatch.width=13; hatch.height=13;
(function(){const g=hatch.getContext('2d');g.fillStyle='#fff';g.fillRect(0,0,13,13);g.strokeStyle='#d2d2d2';g.lineWidth=1;
 g.beginPath();for(let i=-13;i<=26;i+=13){g.moveTo(i,13);g.lineTo(i+13,0);}g.stroke();})();

const lato = 'Lato';
const bins = binColors.map((c,i)=>[i,i+1,c]);
const chart = echarts.init(document.getElementById('c'),null,{renderer:'canvas'});
chart.setOption({
  animation:false, backgroundColor:'#fff',
  title:{text:titleText,left:24,top:18,textStyle:{fontFamily:'Liberation Serif',fontSize:49,fontWeight:'normal',color:'#5b5b5b'}},
  visualMap:{show:false,type:'piecewise',seriesIndex:0,pieces:binColors.map((c,i)=>i<7?{min:i,max:i+1,color:c}:{min:7,color:c})},
  grid:[{left:203,width:832,top:848,height:20,show:false},{left:169,width:819,top:1026,height:20,show:false}],
  xAxis:[
    {gridIndex:0,type:'value',position:'top',min:0,max:8,interval:1,splitLine:{show:false},axisLine:{show:false},
     axisTick:{length:5,lineStyle:{color:'#888',width:1}},
     axisLabel:{margin:7,fontFamily:lato,fontSize:23,color:'#333',hideOverlap:false,showMaxLabel:false,formatter:v=>legendTicks.includes(v)?String(v):''}},
    {gridIndex:1,type:'value',min:1950,max:2021,show:false}
  ],
  yAxis:[{gridIndex:0,type:'value',min:0,max:1,show:false},{gridIndex:1,type:'value',min:0,max:1,show:false}],
  series:[
    {type:'map',map:'owid',projection:robinson,left:bx0,top:by0,width:bx1-bx0,height:by1-by0,aspectScale:1,roam:false,silent:true,
     label:{show:false},emphasis:{disabled:true},select:{disabled:true},
     itemStyle:{areaColor:'#ffffff',borderColor:'#6f6f6f',borderWidth:0.8},data:mapData},
    {type:'custom',xAxisIndex:0,yAxisIndex:0,silent:true,clip:false,data:bins,
     renderItem(params,api){
       const a=api.value(0),b=api.value(1),col=bins[params.dataIndex][2];
       const p0=api.coord([a,1]),p1=api.coord([a,0]);
       const last=b===8;
       const xr=last?api.coord([7.94,0])[0]:api.coord([b,0])[0];
       const tip=api.coord([8,0.5]);
       const pts=last?[[p0[0],p0[1]],[xr,p0[1]],[tip[0],tip[1]],[xr,p1[1]],[p1[0],p1[1]]]:[[p0[0],p0[1]],[xr,p0[1]],[xr,p1[1]],[p1[0],p1[1]]];
       return {type:'polygon',shape:{points:pts},style:{fill:col,stroke:last?'#7f3213':'#8f8b7a',lineWidth:1}};
     }},
    {type:'line',xAxisIndex:1,yAxisIndex:1,silent:true,symbol:'none',data:timelineYears.map(y=>[y,0.5]),lineStyle:{width:8,color:'#aeb4bd',cap:'butt'}},
    {type:'scatter',xAxisIndex:1,yAxisIndex:1,silent:true,clip:false,symbolSize:29,data:[[timelineYears[1],0.5]],z:5,
     itemStyle:{opacity:1,color:'#fff',borderColor:'#2f6fd0',borderWidth:3,shadowBlur:5,shadowColor:'rgba(0,0,0,.35)',shadowOffsetY:2}}
  ],
  graphic:{elements:[
    {type:'rect',shape:{x:966,y:22,width:123,height:62},style:{fill:'#0f2a55'}},
    {type:'rect',shape:{x:966,y:84,width:123,height:8},style:{fill:'#c43c2e'}},
    {type:'text',style:{x:1027.5,y:41,text:'Our World',textAlign:'center',textVerticalAlign:'middle',font:'24.5px Lato',fill:'#fff'}},
    {type:'text',style:{x:1027.5,y:68,text:'in Data',textAlign:'center',textVerticalAlign:'middle',font:'24.5px Lato',fill:'#fff'}},
    {type:'rect',shape:{x:864,y:103,width:218,height:42,r:8},style:{fill:'#fff',stroke:'#c8c8c8',lineWidth:2}},
    {type:'text',style:{x:877,y:125,text:'World',textVerticalAlign:'middle',font:'24.5px Lato',fill:'#333'}},
    {type:'polyline',shape:{points:[[1051,119],[1061,129],[1071,119]]},style:{stroke:'#cccccc',lineWidth:4,fill:null}},
    {type:'rect',shape:{x:82.5,y:848.5,width:85,height:20},style:{fill:{image:hatch,repeat:'repeat'},stroke:'#a5a5a5',lineWidth:1}},
    {type:'line',shape:{x1:125,y1:843,x2:125,y2:848},style:{stroke:'#888',lineWidth:1}},
    {type:'text',style:{x:124,y:827,text:'No data',textAlign:'center',textVerticalAlign:'middle',font:'23.5px Lato',fill:'#333'}},
    {type:'text',style:{x:29,y:922,text:'Source: United Nations - Population Division (2022)',textVerticalAlign:'middle',font:'22.2px Lato',fill:'#808080'}},
    {type:'text',style:{x:1088,y:922,text:'OurWorldInData.org/fertility-rate • CC BY',textAlign:'right',textVerticalAlign:'middle',font:'22.5px Lato',fill:'#808080'}},
    {type:'text',style:{x:29,y:947,text:noteLines[0],textVerticalAlign:'middle',font:'22px Lato',fill:'#808080'}},
    {type:'text',style:{x:29,y:972,text:noteLines[1],textVerticalAlign:'middle',font:'22px Lato',fill:'#808080'}},
    {type:'polygon',shape:{points:[[33,1025],[54,1036],[33,1048]]},style:{fill:'#777',stroke:'#777',lineWidth:3,lineJoin:'round'}},
    {type:'text',style:{x:72,y:1038,text:String(timelineYears[0]),textVerticalAlign:'middle',font:'28px Lato',fill:'#666'}},
    {type:'text',style:{x:1020,y:1038,text:String(timelineYears[1]),textVerticalAlign:'middle',font:'28px Lato',fill:'#666'}}
  ]}
});
</script></body></html>
